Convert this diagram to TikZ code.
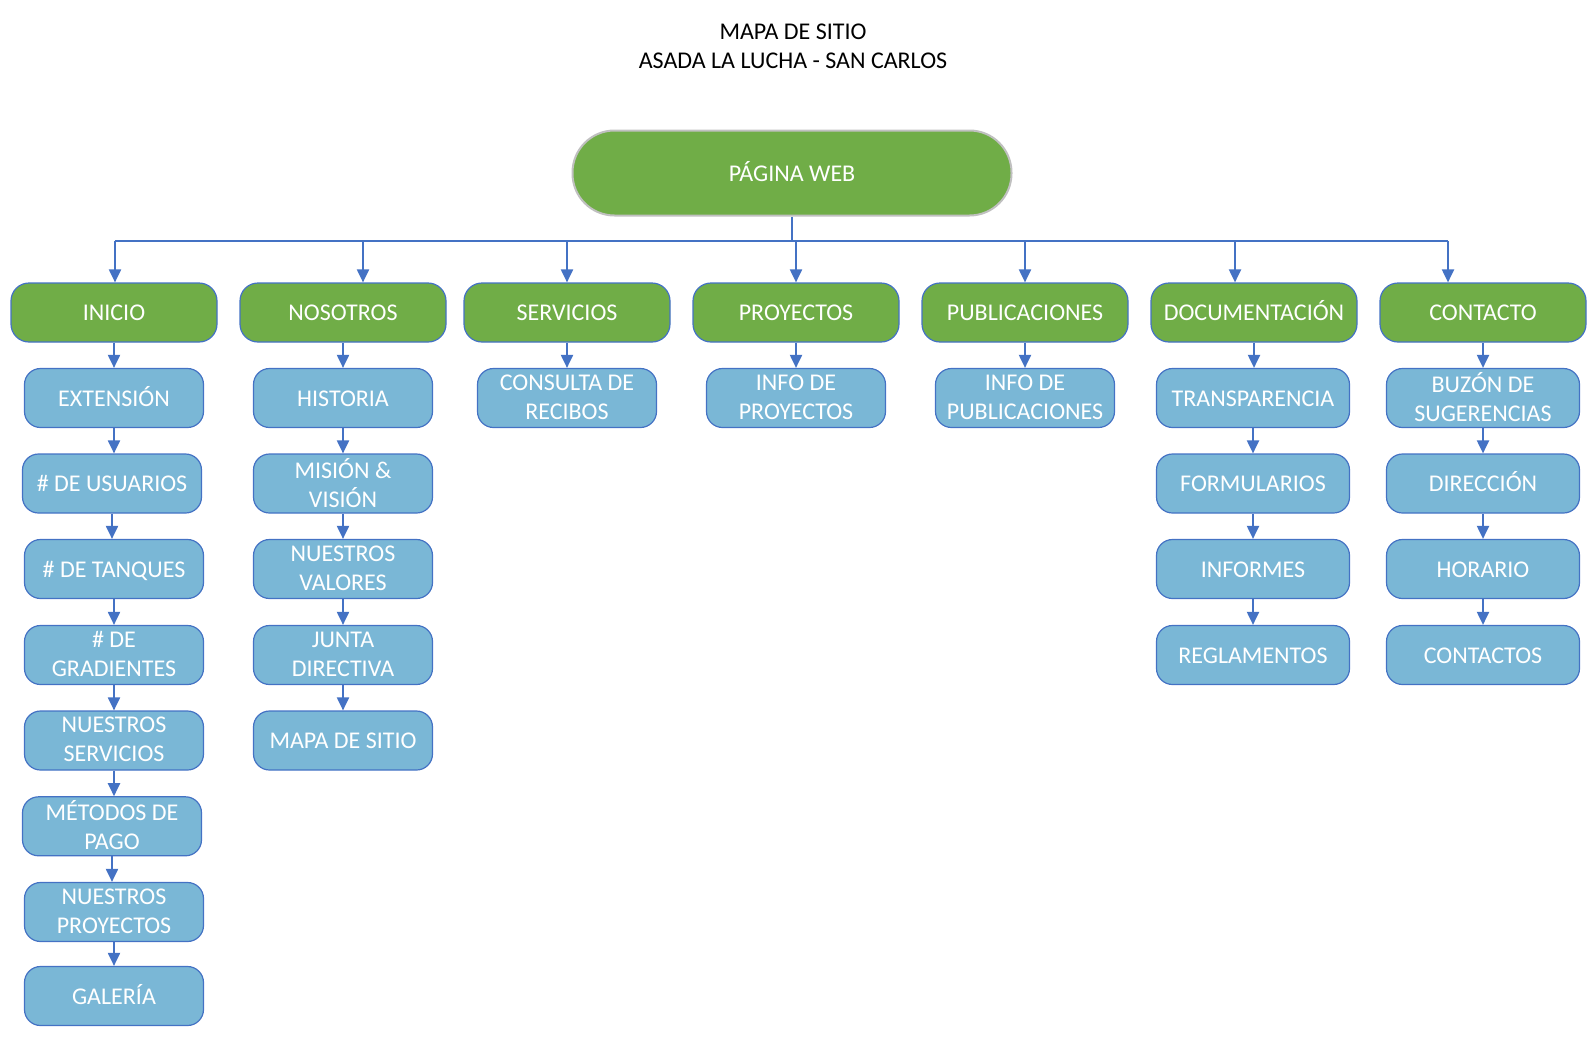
\documentclass[tikz,border=0pt]{standalone}
\usepackage{fontspec}
\setmainfont{Carlito}
\usetikzlibrary{arrows.meta}
\definecolor{grn}{HTML}{70AD47}
\definecolor{lblue}{HTML}{7AB7D6}
\definecolor{edge}{HTML}{4472C4}
\definecolor{gbord}{HTML}{C0C0C0}
\tikzset{
  txt/.style={font=\fontsize{24}{29}\selectfont, align=center, inner sep=0pt},
  strutted/.style={execute at begin node={\rule{0pt}{20pt}}, execute at end node={\rule[-4pt]{0pt}{4pt}}},
  twoline/.style={execute at begin node={\rule{0pt}{25pt}}, execute at end node={\rule[-2pt]{0pt}{2pt}}},
  topbox/.style={txt, strutted, text=white, fill=grn, draw=gbord, line width=2pt, rounded corners=42pt, minimum width=439pt, minimum height=85pt},
  secbox/.style={txt, strutted, text=white, fill=grn, draw=edge, line width=1.2pt, rounded corners=18pt, minimum width=206pt, minimum height=59pt},
  subbox/.style={txt, strutted, text=white, fill=lblue, draw=edge, line width=1.2pt, rounded corners=16pt, minimum width=179pt, minimum height=59pt},
  subbox2/.style={txt, twoline, text=white, fill=lblue, draw=edge, line width=1.2pt, rounded corners=16pt, minimum width=179pt, minimum height=59pt},
  widebox/.style={subbox, minimum width=193pt},
  widebox2/.style={subbox2, minimum width=193pt},
  conn/.style={draw=edge, line width=2pt, -{Triangle[width=12pt,length=13pt]}},
  bus/.style={draw=edge, line width=2pt}
}
\begin{document}
\begin{tikzpicture}[x=1pt,y=-1pt]
\useasboundingbox (0,0) rectangle (1596,1037);
% title
\node[txt, text=black, anchor=base] (title1) at (793,39.5) {MAPA DE SITIO};
\node[txt, text=black, anchor=base] (title2) at (793,68.5) {ASADA LA LUCHA - SAN CARLOS};
% top
\node[topbox] (web) at (792,173) {PÁGINA WEB};
% level 1
\node[secbox] (ini) at (114,312.5) {INICIO};
\node[secbox] (nos) at (343,312.5) {NOSOTROS};
\node[secbox] (ser) at (567,312.5) {SERVICIOS};
\node[secbox] (pro) at (796,312.5) {PROYECTOS};
\node[secbox] (pub) at (1025,312.5) {PUBLICACIONES};
\node[secbox] (doc) at (1254,312.5) {DOCUMENTACIÓN};
\node[secbox] (con) at (1483,312.5) {CONTACTO};
% bus
\coordinate (busL) at (115,241);
\coordinate (busR) at (1448,241);
\draw[bus] (web.south) -- (web.south |- busL);
\draw[bus] (busL) -- (busR);
\draw[conn] (busL) -- (busL |- ini.north);
\draw[conn] (363,241) -- ([xshift=20pt]nos.north);
\draw[conn] (ser.north |- busL) -- (ser.north);
\draw[conn] (pro.north |- busL) -- (pro.north);
\draw[conn] (pub.north |- busL) -- (pub.north);
\draw[conn] (1235,241) -- ([xshift=-19pt]doc.north);
\draw[conn] (busR) -- ([xshift=-35pt]con.north);
% INICIO column
\node[subbox] (i1) at (114,398) {EXTENSIÓN};
\node[subbox] (i2) at (112,483.5) {\# DE USUARIOS};
\node[subbox] (i3) at (114,569) {\# DE TANQUES};
\node[subbox2] (i4) at (114,655) {\# DE\\GRADIENTES};
\node[subbox2] (i5) at (114,740.5) {NUESTROS\\SERVICIOS};
\node[subbox2] (i6) at (112,826.3) {MÉTODOS DE\\PAGO};
\node[subbox2] (i7) at (114,912) {NUESTROS\\PROYECTOS};
\node[subbox] (i8) at (114,996) {GALERÍA};
\draw[conn] (ini.south) -- (ini.south |- i1.north);
\draw[conn] (i1.south) -- (i1.south |- i2.north);
\draw[conn] (i2.south) -- (i2.south |- i3.north);
\draw[conn] (i3.south) -- (i3.south |- i4.north);
\draw[conn] (i4.south) -- (i4.south |- i5.north);
\draw[conn] (i5.south) -- (i5.south |- i6.north);
\draw[conn] (i6.south) -- (i6.south |- i7.north);
\draw[conn] (i7.south) -- (i7.south |- i8.north);
% NOSOTROS column
\node[subbox] (n1) at (343,398) {HISTORIA};
\node[subbox2] (n2) at (343,483.5) {MISIÓN \&\\VISIÓN};
\node[subbox2] (n3) at (343,569) {NUESTROS\\VALORES};
\node[subbox2] (n4) at (343,655) {JUNTA\\DIRECTIVA};
\node[subbox] (n5) at (343,740.5) {MAPA DE SITIO};
\draw[conn] (nos.south) -- (n1.north);
\draw[conn] (n1.south) -- (n2.north);
\draw[conn] (n2.south) -- (n3.north);
\draw[conn] (n3.south) -- (n4.north);
\draw[conn] (n4.south) -- (n5.north);
% SERVICIOS, PROYECTOS, PUBLICACIONES
\node[subbox2] (s1) at (567,398) {CONSULTA DE\\RECIBOS};
\node[subbox2] (p1) at (796,398) {INFO DE\\PROYECTOS};
\node[subbox2] (u1) at (1025,398) {INFO DE\\PUBLICACIONES};
\draw[conn] (ser.south) -- (s1.north);
\draw[conn] (pro.south) -- (p1.north);
\draw[conn] (pub.south) -- (u1.north);
% DOCUMENTACION column
\node[widebox] (d1) at (1253,398) {TRANSPARENCIA};
\node[widebox] (d2) at (1253,483.5) {FORMULARIOS};
\node[widebox] (d3) at (1253,569) {INFORMES};
\node[widebox] (d4) at (1253,655) {REGLAMENTOS};
\draw[conn] (doc.south) -- (doc.south |- d1.north);
\draw[conn] (d1.south) -- (d2.north);
\draw[conn] (d2.south) -- (d3.north);
\draw[conn] (d3.south) -- (d4.north);
% CONTACTO column
\node[widebox2] (c1) at (1483,398) {BUZÓN DE\\SUGERENCIAS};
\node[widebox] (c2) at (1483,483.5) {DIRECCIÓN};
\node[widebox] (c3) at (1483,569) {HORARIO};
\node[widebox] (c4) at (1483,655) {CONTACTOS};
\draw[conn] (con.south) -- (c1.north);
\draw[conn] (c1.south) -- (c2.north);
\draw[conn] (c2.south) -- (c3.north);
\draw[conn] (c3.south) -- (c4.north);
\end{tikzpicture}
\end{document}
